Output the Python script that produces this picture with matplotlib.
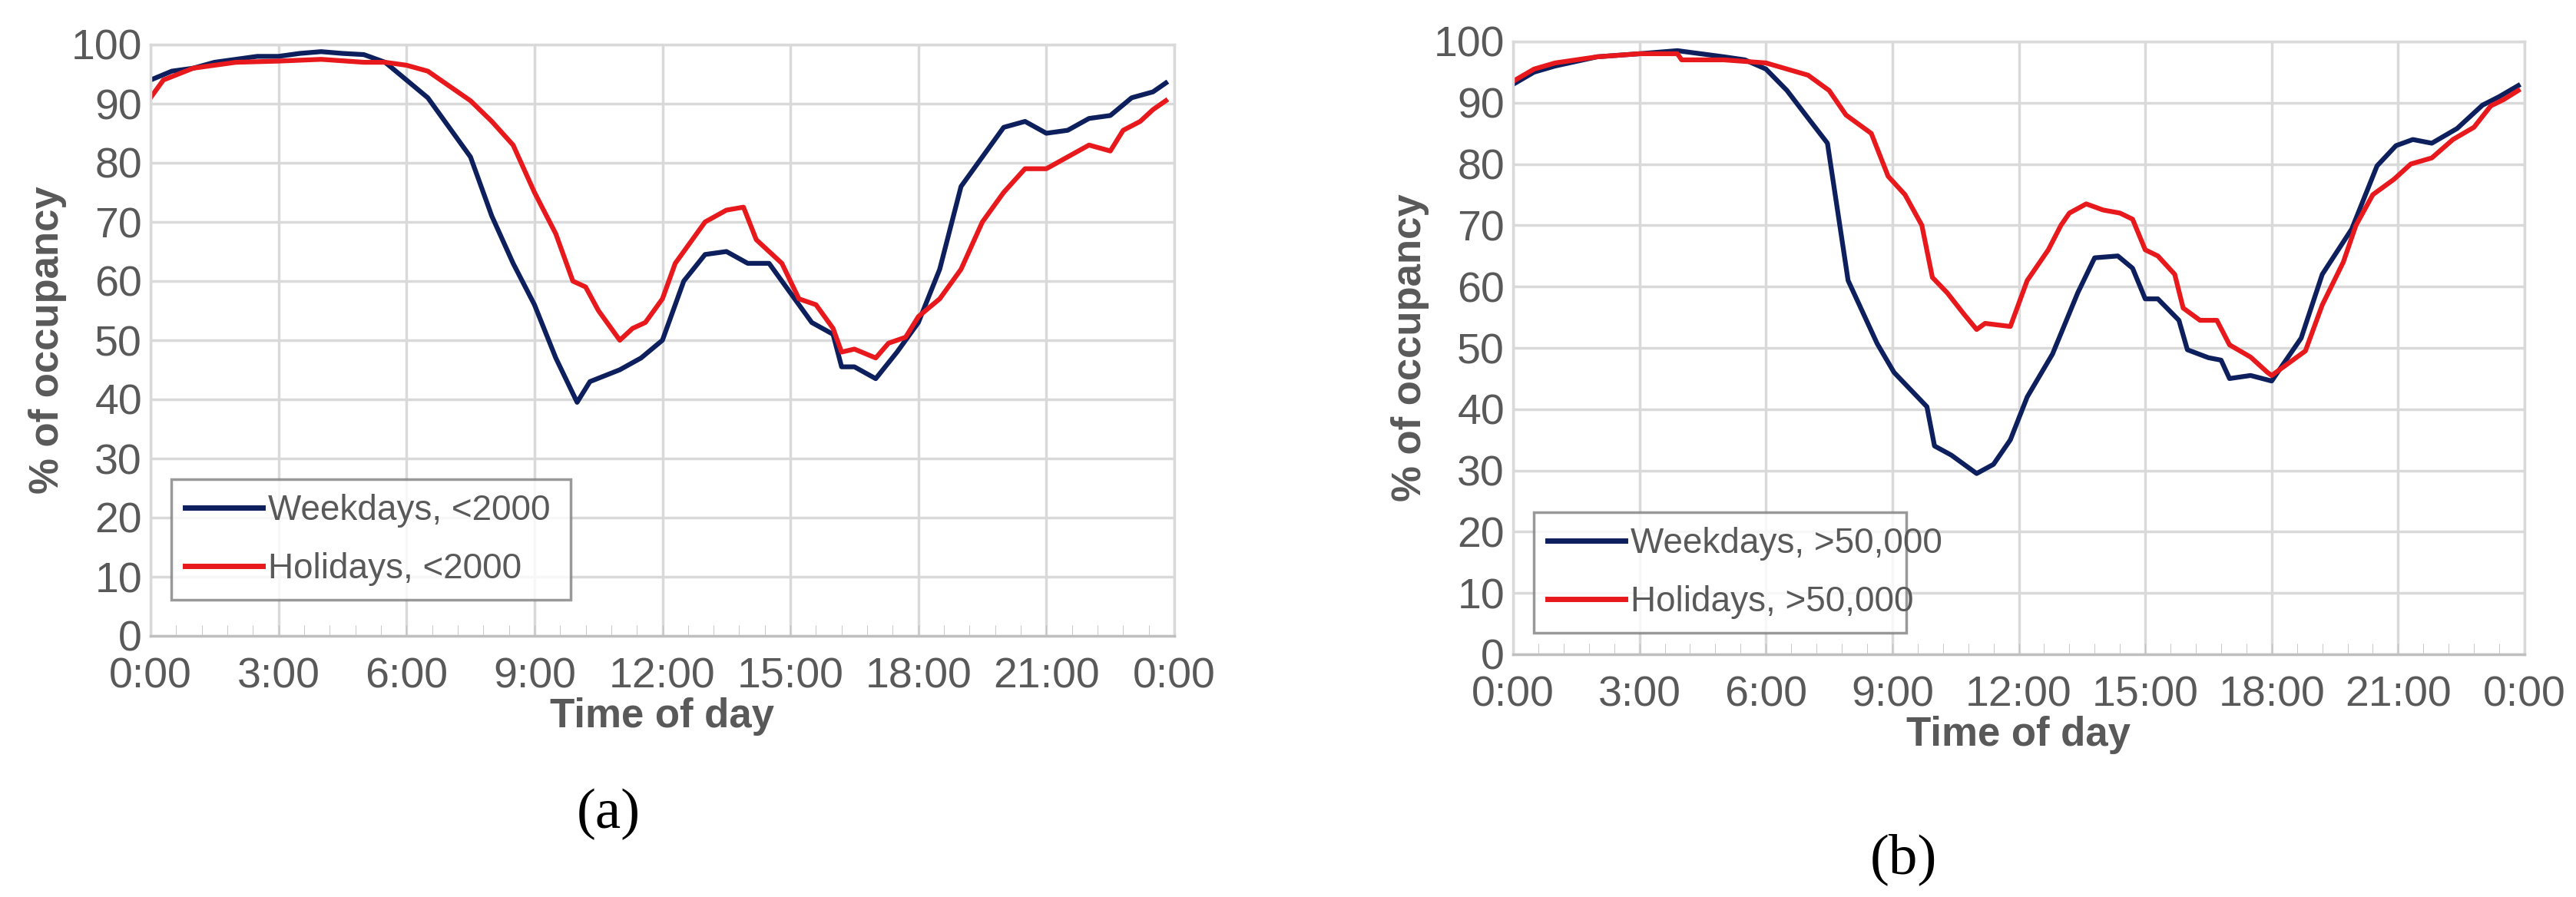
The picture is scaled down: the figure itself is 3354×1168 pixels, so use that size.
import matplotlib
matplotlib.use("Agg")
import matplotlib.pyplot as plt
import numpy as np

plt.rcParams['font.family'] = ['Liberation Sans', 'DejaVu Sans']

t_wa = [0,0.5,1,1.5,2,2.5,3,3.5,4,4.5,5,5.5,6,6.5,7,7.5,8,8.5,9,9.5,10,10.3,11,11.5,12,12.5,13,13.5,14,14.5,15,15.5,16,16.2,16.5,17,17.5,18,18.5,19,19.5,20,20.5,21,21.5,22,22.5,23,23.5,23.8]
v_wa = [94,95.5,96,97,97.5,98,98,98.5,98.8,98.5,98.3,97,94,91,86,81,71,63,56,47,39.5,43,45,47,50,60,64.5,65,63,63,58,53,51,45.5,45.5,43.5,48,53,62,76,81,86,87,85,85.5,87.5,88,91,92,93.5]
t_ha = [0,0.3,1,2,3,4,5,5.5,6,6.5,7,7.5,8,8.5,9,9.5,9.9,10.2,10.5,11,11.3,11.6,12,12.3,12.7,13,13.5,13.9,14.2,14.8,15.2,15.6,16,16.2,16.5,17,17.3,17.7,18,18.5,19,19.5,20,20.5,21,21.5,22,22.5,22.8,23.2,23.5,23.8]
v_ha = [91,94,96,97,97.2,97.5,97,97,96.5,95.5,93,90.5,87,83,75,68,60,59,55,50,52,53,57,63,67,70,72,72.5,67,63,57,56,52,48,48.5,47,49.5,50.5,54,57,62,70,75,79,79,81,83,82,85.5,87,89,90.5]

t_wb = [0,0.5,1,2,3,3.9,5,5.5,6,6.5,7,7.46,7.95,8.64,9.04,9.82,10.0,10.4,11.0,11.4,11.8,12.2,12.8,13.4,13.8,14.35,14.7,15.0,15.3,15.8,16.0,16.5,16.8,17.0,17.5,18.0,18.7,19.2,19.9,20.5,20.95,21.35,21.8,22.4,23.0,23.4,23.85]
v_wb = [93,95,96,97.5,98,98.5,97.5,97,95.5,92,87.5,83.4,61,50.7,46,40.4,34,32.5,29.5,31,35,42,49,59,64.7,65,63,58,58,54.5,49.7,48.4,48,45,45.5,44.6,51.6,62,69.4,79.7,83,84,83.4,85.8,89.6,91,92.8]
t_hb = [0,0.5,1,2,3,3.9,4,5,6,6.5,7,7.5,7.9,8.5,8.9,9.3,9.7,9.95,10.3,10.7,11.0,11.2,11.8,12.2,12.7,13.0,13.2,13.6,14.0,14.4,14.7,15.0,15.3,15.7,15.9,16.3,16.7,17.0,17.5,17.9,18.0,18.3,18.8,19.2,19.7,20.0,20.4,20.9,21.3,21.8,22.3,22.8,23.2,23.5,23.85]
v_hb = [93.5,95.5,96.5,97.5,98,98,97,97,96.5,95.5,94.5,92,88,85,78,75,70,61.5,59,55.5,53,54,53.5,61,66,70,72,73.5,72.5,72,71,66,65,62,56.5,54.5,54.5,50.5,48.5,46,45.5,47,49.5,57,64,70,75,77.5,80,81,84,86,89.5,90.5,92]

xticks = [0,3,6,9,12,15,18,21,24]
xlabels = ["0:00","3:00","6:00","9:00","12:00","15:00","18:00","21:00","0:00"]

navy = '#0d1f5c'
red = '#e8191c'
gray = '#595959'

fig = plt.figure(figsize=(33.54, 11.68), dpi=100)
W, H = 3354, 1168
ax1 = fig.add_axes([196/W, 1-828/H, (1529-196)/W, (828-58)/H])
ax2 = fig.add_axes([1970/W, 1-852/H, (3287-1970)/W, (852-54)/H])

panels = [
    (ax1, t_wa, v_wa, t_ha, v_ha, "Weekdays, <2000", "Holidays, <2000", (223/W, 1-781/H, 520/W, 128/H)),
    (ax2, t_wb, v_wb, t_hb, v_hb, "Weekdays, >50,000", "Holidays, >50,000", (1997/W, 1-824/H, 485/W, 139/H)),
]
for ax, tw, vw, th, vh, lw_, lh_, box in panels:
    ax.plot(tw, vw, color=navy, lw=4.5, label=lw_)
    ax.plot(th, vh, color=red, lw=4.5, label=lh_)
    ax.set_xlim(0, 24)
    ax.set_ylim(0, 100)
    ax.set_yticks(range(0, 101, 10))
    ax.set_xticks(xticks)
    ax.set_xticklabels(xlabels)
    ax.set_xticks(np.arange(0, 24.01, 0.6), minor=True)
    ax.grid(True, color='#d9d9d9', lw=2.5)
    ax.set_axisbelow(True)
    for s in ax.spines.values():
        s.set_color('#d9d9d9'); s.set_linewidth(2.5)
    ax.spines['bottom'].set_color('#bfbfbf')
    ax.tick_params(axis='y', length=0, labelsize=40, labelcolor=gray, pad=8)
    ax.tick_params(axis='x', which='major', direction='in', length=10, color='#bfbfbf', labelsize=40, labelcolor=gray, pad=20)
    ax.tick_params(axis='x', which='minor', direction='in', length=10, color='#bfbfbf')
    ax.set_xlabel("Time of day", fontsize=38, fontweight='bold', color=gray, labelpad=0)
    ax.set_ylabel("% of occupancy", fontsize=38, fontweight='bold', color=gray, labelpad=4)
    leg = ax.legend(loc='lower left', bbox_to_anchor=box, bbox_transform=fig.transFigure,
                    fontsize=33, frameon=True, fancybox=False, edgecolor='#808080',
                    handlelength=2.2, handletextpad=0.15, labelspacing=0.7, mode='expand', borderaxespad=0)
    leg.get_frame().set_linewidth(2.5)
    for line in leg.get_lines():
        line.set_linewidth(5)
    for txt in leg.get_texts():
        txt.set_color(gray)

fig.text(792/W, 1-1060/H, "(a)", fontsize=54, ha='center', va='center', family=['Liberation Serif','DejaVu Serif'])
fig.text(2478/W, 1-1119/H, "(b)", fontsize=54, ha='center', va='center', family=['Liberation Serif','DejaVu Serif'])

fig.savefig("out.png", dpi=100, facecolor='white')
